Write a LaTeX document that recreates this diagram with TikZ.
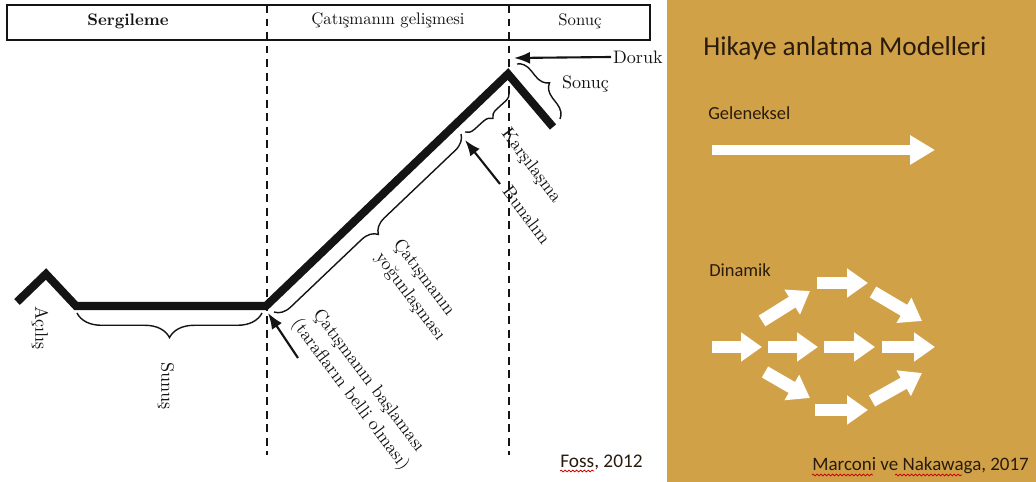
\documentclass[tikz,border=0pt]{standalone}
\usepackage{fontspec}
\newfontfamily\gill{Carlito}
\usetikzlibrary{arrows.meta,decorations.pathreplacing,decorations.pathmorphing}
\definecolor{cgold}{HTML}{D1A148}
\definecolor{cdark}{HTML}{2A1C0C}
\definecolor{cink}{HTML}{141414}
\tikzset{
  >={Latex[length=3.2mm,width=2.4mm]},
  plotline/.style={line width=4.6pt,cink},
  divider/.style={cink,line width=1.1pt,dash pattern=on 4.5pt off 3.2pt},
  brc/.style={decorate,decoration={brace,amplitude=#1},line width=0.8pt,cink},
  brcm/.style={decorate,decoration={brace,mirror,amplitude=#1},line width=0.8pt,cink},
  pointer/.style={->,line width=1.2pt,cink},
  hdr/.style={font=\fontsize{9.5}{11}\selectfont,text=cink},
  lbl/.style={font=\fontsize{10.3}{13}\selectfont,text=cink,inner sep=1pt},
  gtext/.style={font=\gill,text=cdark,inner sep=0pt},
  fatarrow/.style={-{Triangle[length=0.42cm,width=0.56cm]},line width=7.2pt,white},
  longarrow/.style={-{Triangle[length=0.5cm,width=0.56cm]},line width=5.6pt,white},
  squig/.style={decorate,decoration={snake,amplitude=0.5pt,segment length=2.2pt},red!80!black,line width=0.45pt},
}
\begin{document}
\begin{tikzpicture}[x=0.02cm,y=-0.02cm]
\useasboundingbox (0,0) rectangle (1036,482);
\fill[white] (0,0) rectangle (667,482);

% ================= LEFT: Foss plot =================
\draw[cink,line width=1.3pt] (7,5) rectangle (650,40);
\node[hdr,font=\fontsize{9.5}{11}\selectfont\bfseries] (sergi) at (128,21) {Sergileme};
\node[hdr] (gelis) at (388,20) {Çatışmanın gelişmesi};
\node[hdr] (sonuch) at (580,21) {Sonuç};

% phase dividers
\coordinate (d1t) at (267,5);  \coordinate (d1b) at (267,455);
\coordinate (d2t) at (509,5);  \coordinate (d2b) at (509,455);
\draw[divider] (d1t) -- (d1b);
\draw[divider] (d2t) -- (d2b);

% the curve
\coordinate (p0) at (17,302);
\coordinate (p1) at (46,274);
\coordinate (p2) at (76,306);
\coordinate (p3) at (266,306);
\coordinate (p4) at (508,74);
\coordinate (p5) at (553,127);
\draw[plotline] (p0) -- (p1) -- (p2) -- (p3) -- (p4) -- (p5);

% braces
\draw[brcm=14pt] (77,313) -- (262,313);
\draw[brcm=9pt] (274,312) -- (461,134);
\draw[brcm=5pt] (465,132) -- (509,92);
\draw[brc=8pt] (517,64) -- (560,119);

% labels
\node[lbl,rotate=-90] (acilis) at (40,328) {Açılış};
\node[lbl,rotate=-90] (sunus) at (166,386) {Sunuş};
\node[lbl,rotate=-53,align=center] (baslama) at (359,388)
     {Çatışmanın başlaması\\(tarafların belli olması)};
\node[lbl,rotate=-53,align=left] (yogun) at (419,290) {Çatışmanın\\yoğunlaşması};
\node[lbl,rotate=-53] (karsi) at (531,166) {Karşılaşma};
\node[lbl,rotate=-53] (bunalim) at (527,215) {Bunalım};
\node[lbl,anchor=west] (sonucl) at (560,84) {Sonuç};
\node[lbl,anchor=west] (doruk) at (611,57) {Doruk};

% pointers
\coordinate (dorukpt) at (514,58);
\coordinate (crisis) at (465,140);
\coordinate (crisistail) at (500,184);
\coordinate (startpt) at (268,313);
\coordinate (starttail) at (298,358);
\draw[pointer] (doruk.west) -- (dorukpt);
\draw[pointer] (crisistail) -- (crisis);
\draw[pointer] (starttail) -- (startpt);

\node[gtext,font=\gill\fontsize{11}{13}\selectfont,anchor=west] (foss) at (560,462) {Foss, 2012};
\draw[squig] (560,471) -- (594,471);

% ================= RIGHT: models =================
\fill[cgold] (667,0) rectangle (1036,482);
\node[gtext,font=\gill\fontsize{15.5}{18}\selectfont,anchor=west] (title) at (703,48) {Hikaye anlatma Modelleri};
\node[gtext,font=\gill\fontsize{10.5}{12}\selectfont,anchor=west] (gelen) at (708,113) {Geleneksel};
\node[gtext,font=\gill\fontsize{10.5}{12}\selectfont,anchor=west] (dinam) at (709,270) {Dinamik};

\coordinate (g0) at (712,150);
\coordinate (g1) at (935,150);
\draw[longarrow] (g0) -- (g1);

% dynamic flow
\foreach \a/\b in {712/762,768/818,824/875,882/935}
  \draw[fatarrow] (\a,347) -- (\b,347);
\foreach \ax/\ay/\bx/\by in {762/321/810/291, 817/283/868/283, 873/292/922/321,
                             765/372/810/398, 815/410/868/410, 872/401/922/373}
  \draw[fatarrow] (\ax,\ay) -- (\bx,\by);

\node[gtext,font=\gill\fontsize{10.8}{12}\selectfont,anchor=west] (ref) at (812,466) {Marconi ve Nakawaga, 2017};
\draw[squig] (812,475) -- (873,475);
\draw[squig] (895,475) -- (962,475);

\end{tikzpicture}
\end{document}
